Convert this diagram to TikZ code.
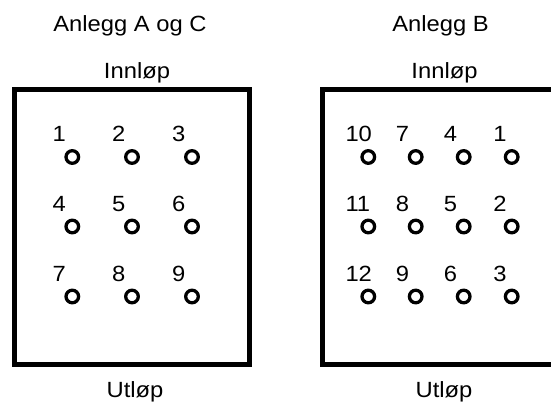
\documentclass[tikz,border=0pt]{standalone}
\usepackage{fontspec}
\setmainfont[FakeStretch=1.08]{Liberation Sans}
\begin{document}
\begin{tikzpicture}[x=1pt,y=-1pt,
  txt/.style={inner sep=0pt,font=\fontsize{22}{26}\selectfont},
  title/.style={txt,anchor=base},
  lbl/.style={txt,anchor=base west},
  hole/.style={circle,draw,line width=3.3pt,minimum size=12.6pt,inner sep=0pt},
  basin/.style={line width=5pt}]
\useasboundingbox (0,0) rectangle (551,403);
\begin{scope}
\clip (0,0) rectangle (551,403);
% left basin
\draw[basin] (14.3,89.7) rectangle (249.7,364.3);
% right basin
\draw[basin] (322,89.7) rectangle (557.4,364.3);
\end{scope}
\node[title] (tA) at (130,32) {Anlegg A og C};
\node[title] (iA) at (137,79) {Innløp};
\node[title] (uA) at (135,397.5) {Utløp};
\node[title] (tB) at (440.5,32) {Anlegg B};
\node[title] (iB) at (444.5,79) {Innløp};
\node[title] (uB) at (444,397.5) {Utløp};
% left holes
\foreach \n/\x/\y in {1/72.3/157,2/132/157,3/192/157,4/72.3/226.5,5/132/226.5,6/192/226.5,7/72.3/296.5,8/132/296.5,9/192/296.5}{
  \node[hole] (a\n) at (\x,\y) {};
  \node[lbl] (la\n) at (\x-20,\y-15) {\n};
}
% right holes
\foreach \n/\x/\y/\d in {10/368.3/157/23,7/415.7/157/20,4/463.7/157/20,1/511.7/157/18.5,
                       11/368.3/226.5/23,8/415.7/226.5/20,5/463.7/226.5/20,2/511.7/226.5/18.5,
                       12/368.3/296.5/23,9/415.7/296.5/20,6/463.7/296.5/20,3/511.7/296.5/18.5}{
  \node[hole] (b\n) at (\x,\y) {};
  \node[lbl] (lb\n) at (\x-\d,\y-15) {\n};
}
\end{tikzpicture}
\end{document}
